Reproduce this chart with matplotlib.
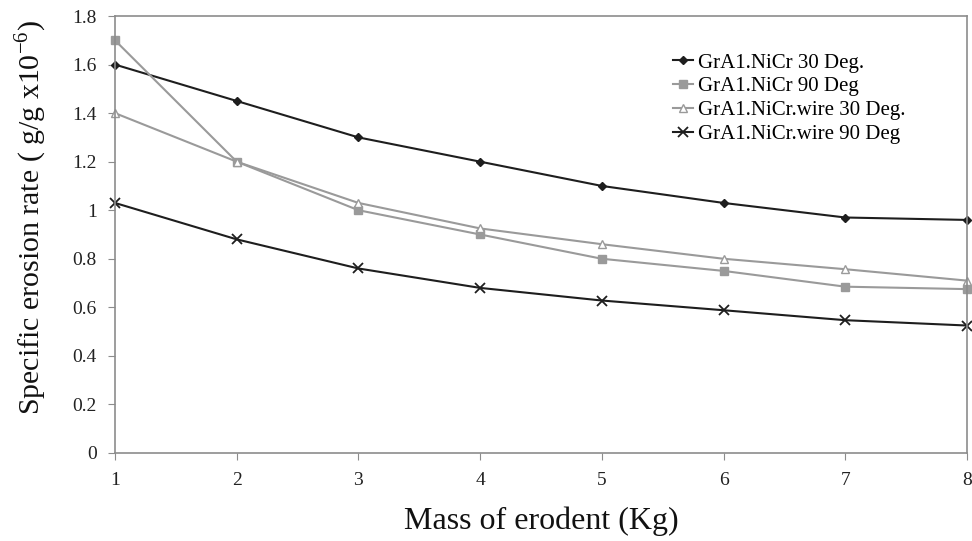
# Specific erosion rate vs mass of erodent
import numpy as np
import matplotlib.pyplot as plt

plt.rcParams['font.family'] = ['Liberation Serif', 'DejaVu Serif']
plt.rcParams['mathtext.fontset'] = 'custom'
plt.rcParams['mathtext.rm'] = 'Liberation Serif'

mass = [1, 2, 3, 4, 5, 6, 7, 8]
nicr_30 = [1.60, 1.45, 1.30, 1.20, 1.10, 1.03, 0.97, 0.96]
nicr_90 = [1.70, 1.20, 1.00, 0.90, 0.80, 0.75, 0.685, 0.675]
wire_30 = [1.40, 1.20, 1.03, 0.925, 0.86, 0.80, 0.757, 0.71]
wire_90 = [1.03, 0.88, 0.76, 0.68, 0.628, 0.588, 0.547, 0.525]
yticks = [0, 0.2, 0.4, 0.6, 0.8, 1, 1.2, 1.4, 1.6, 1.8]
ylabels = ["0", "0.2", "0.4", "0.6", "0.8", "1", "1.2", "1.4", "1.6", "1.8"]

dark = "#1e1e1e"
grey = "#9a9a9a"

fig = plt.figure(figsize=(9.72, 5.41), dpi=100)
ax = fig.add_axes([0.1183, 0.1627, 0.8766, 0.8077])

ax.plot(mass, nicr_30, color=dark, lw=1.5, marker="D", ms=4.5, mfc=dark, mec=dark,
        clip_on=False, label="GrA1.NiCr 30 Deg.")
ax.plot(mass, nicr_90, color=grey, lw=1.5, marker="s", ms=5.5, mfc=grey, mec=grey,
        clip_on=False, label="GrA1.NiCr 90 Deg")
ax.plot(mass, wire_30, color=grey, lw=1.5, marker="^", ms=6, mfc="white", mec=grey,
        clip_on=False, label="GrA1.NiCr.wire 30 Deg.")
ax.plot(mass, wire_90, color=dark, lw=1.5, marker="x", ms=7, mew=1.3, mec=dark,
        clip_on=False, label="GrA1.NiCr.wire 90 Deg")

ax.set_xlim(1, 8)
ax.set_ylim(0, 1.8)
ax.set_xticks(mass)
ax.set_yticks(yticks)
ax.set_yticklabels(ylabels)
for s in ax.spines.values():
    s.set_color("#8c8c8c")
    s.set_linewidth(1.2)
ax.tick_params(axis="both", colors="#8c8c8c", labelcolor="#222222", labelsize=14,
               length=5, direction="out")
ax.tick_params(axis="x", pad=9)
ax.tick_params(axis="y", pad=8)

ax.set_xlabel("Mass of erodent (Kg)", fontsize=23, labelpad=12, color="#111111")
ax.set_ylabel("Specific erosion rate ( g/g x10$^{-6}$)", fontsize=21.5, color="#111111")
ax.yaxis.set_label_coords(-0.078, 0.54)

leg = ax.legend(loc="upper left", bbox_to_anchor=(0.692, 0.902), bbox_transform=fig.transFigure,
                frameon=False, fontsize=15, handlelength=1.0, handletextpad=0.2,
                labelspacing=0.2, borderaxespad=0, borderpad=0)

plt.savefig("out.png", dpi=100)
